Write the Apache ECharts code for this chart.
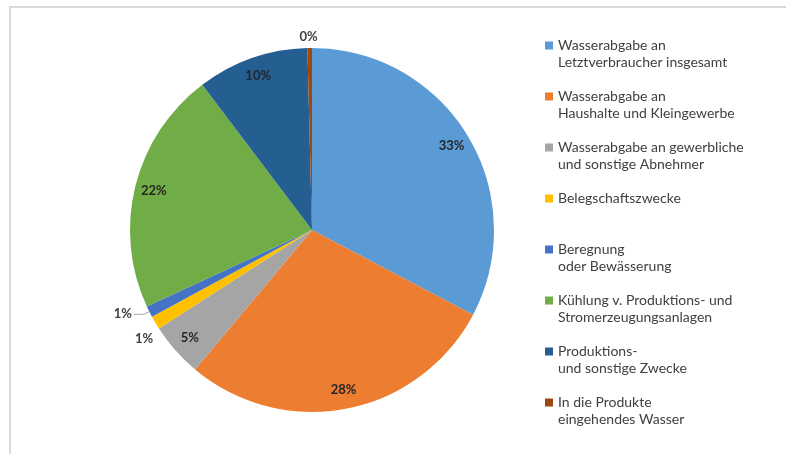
<!DOCTYPE html>
<html>
<head>
<meta charset="utf-8">
<script src="https://cdn.jsdelivr.net/npm/echarts@6/dist/echarts.min.js"></script>
<style>
    html, body { margin: 0; padding: 0; background: #fff; overflow: hidden; }
    #frame { position: absolute; left: 9px; top: 6px; width: 800px; height: 460px;
             border-left: 2px solid #dadada; border-top: 2px solid #dadada; }
    #graph { position: absolute; left: 0; top: 0; width: 786px; height: 454px; }
</style>
</head>
<body>
<div id="frame"></div>
<div id="graph"></div>
<script>
// Kategorien (Legende)
var names = [
    'Wasserabgabe an\nLetztverbraucher insgesamt',
    'Wasserabgabe an\nHaushalte und Kleingewerbe',
    'Wasserabgabe an gewerbliche\nund sonstige Abnehmer',
    'Belegschaftszwecke\n ',
    'Beregnung\noder Bewässerung',
    'Kühlung v. Produktions- und\nStromerzeugungsanlagen',
    'Produktions-\nund sonstige Zwecke',
    'In die Produkte\neingehendes Wasser'
];
// Anteile in Prozent
var values = [32.7, 28.4, 4.8, 1.2, 1.0, 21.6, 9.9, 0.4];
var colors = ['#5B9BD5', '#ED7D31', '#A5A5A5', '#FFC000', '#4472C4', '#70AD47', '#255E91', '#9E480E'];
// welche Beschriftung aussen steht
var outside = [false, false, false, true, true, false, false, true];

var fontFam = 'Lato, "Open Sans", sans-serif';

function pct(p) { return Math.round(p.percent) + '%'; }

var mainData = names.map(function (n, i) {
    return {
        name: n,
        value: values[i],
        itemStyle: {color: colors[i]},
        label: {show: outside[i]},
        labelLine: {show: i === 4}
    };
});

// Ring nur fuer die inneren Beschriftungen
var ringData = names.map(function (n, i) {
    return {
        name: n,
        value: values[i],
        label: {show: !outside[i]}
    };
});

var option = {
    animation: false,
    color: colors,
    legend: {
        orient: 'vertical',
        left: 540,
        top: 15,
        height: 440,
        itemWidth: 8,
        itemHeight: 8,
        itemGap: 0,
        icon: 'rect',
        // leere Zeile oben, damit das Symbol auf Hoehe der ersten Zeile sitzt
        formatter: function (n) { return '\u00a0\n' + n; },
        textStyle: {
            fontFamily: fontFam,
            fontSize: 14,
            color: '#404040',
            lineHeight: 17
        },
        data: names
    },
    series: [{
        type: 'pie',
        center: [312, 230],
        radius: [0, 182],
        startAngle: 90,
        clockwise: true,
        avoidLabelOverlap: false,
        data: mainData,
        label: {
            position: 'outside',
            formatter: pct,
            fontFamily: fontFam,
            fontSize: 13,
            fontWeight: 'bold',
            color: '#404040',
            distanceToLabelLine: 2
        },
        labelLine: {
            length: 6,
            length2: 10,
            lineStyle: {color: '#a6a6a6', width: 1}
        },
        // kleine Verschiebungen wie im Original
        labelLayout: function (p) {
            if (p.dataIndex === 3) return {dx: 15, dy: 13};
            if (p.dataIndex === 7) return {dx: 20, dy: -5};
            return {};
        },
        emphasis: {disabled: true}
    }, {
        type: 'pie',
        center: [312, 230],
        radius: [138, 182],
        startAngle: 90,
        clockwise: true,
        silent: true,
        data: ringData,
        itemStyle: {color: 'rgba(0,0,0,0)'},
        label: {
            position: 'inside',
            formatter: pct,
            fontFamily: fontFam,
            fontSize: 13,
            fontWeight: 'bold',
            color: '#262626'
        },
        labelLine: {show: false},
        emphasis: {disabled: true},
        tooltip: {show: false}
    }]
};

var chart = echarts.init(document.getElementById('graph'));
chart.setOption(option);
</script>
</body>
</html>
